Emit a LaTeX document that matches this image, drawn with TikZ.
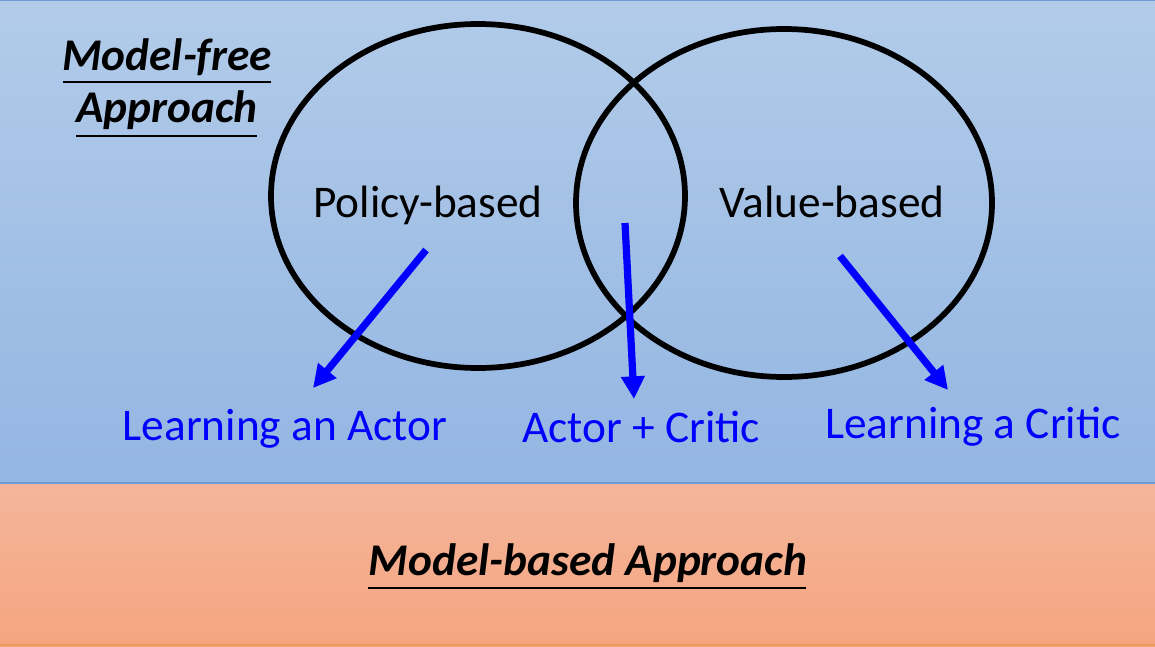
\documentclass[tikz,border=0pt]{standalone}
\usepackage{fontspec}
\setmainfont{Carlito}
\usetikzlibrary{arrows.meta}
\definecolor{bluetop}{HTML}{B2CBE9}
\definecolor{bluebot}{HTML}{93B6E2}
\definecolor{blueline}{HTML}{6C9BD6}
\definecolor{orgtop}{HTML}{F4B69B}
\definecolor{orgbot}{HTML}{F5A47F}
\definecolor{orgline}{HTML}{EE9A5F}
\definecolor{arrowblue}{HTML}{0000FF}
\tikzset{
  heading/.style={font=\fontsize{34}{37}\selectfont\bfseries\itshape, text=black, anchor=base, inner sep=0pt},
  setlabel/.style={font=\fontsize{34}{37}\selectfont, text=black, anchor=base, inner sep=0pt},
  bluelabel/.style={font=\fontsize{34}{37}\selectfont, text=arrowblue, anchor=base, inner sep=0pt},
  setring/.style={draw=black, line width=4.3pt},
  bluearrow/.style={draw=arrowblue, line width=5.4pt, -{Triangle[length=17pt,width=17pt]}},
  uline/.style={draw=black, line width=1.5pt}
}
\begin{document}
\begin{tikzpicture}[x=0.75pt,y=-0.75pt]
\useasboundingbox (0,0) rectangle (1155,646);
% backgrounds
\shade[top color=bluetop, bottom color=bluebot] (0,0) rectangle (1155,483);
\shade[top color=orgtop, bottom color=orgbot] (0,483) rectangle (1155,646);
\draw[blueline, line width=1pt] (0,0.6) -- (1155,0.6);
\draw[blueline, line width=1.2pt] (0,483) -- (1155,483);
\draw[orgline, line width=1.2pt] (0,645) -- (1155,645);
% sets
\draw[setring] (478,196) ellipse [x radius=207, y radius=172];
\draw[setring] (784,203) ellipse [x radius=208, y radius=174];
% headings
\node[heading] (mf) at (167,70) {Model-free};
\node[heading] (ap) at (167,122) {Approach};
\draw[uline] (63,82) -- (271,82);
\draw[uline] (76,136) -- (257,136);
\node[heading] (mb) at (588,575) {Model-based Approach};
\draw[uline] (368,588) -- (806,588);
% set labels
\node[setlabel] (pb) at (428,217) {Policy-based};
\node[setlabel] (vb) at (832,217) {Value-based};
% blue labels
\node[bluelabel] (la) at (285,440) {Learning an Actor};
\node[bluelabel] (ac) at (641,442) {Actor + Critic};
\node[bluelabel] (lc) at (973,438) {Learning a Critic};
% arrow endpoints
\coordinate (s1) at (426,250);
\coordinate (e1) at (313,388);
\coordinate (s2) at (625,223);
\coordinate (e2) at (634,399);
\coordinate (s3) at (840,256);
\coordinate (e3) at (948,390);
\draw[bluearrow] (s1) -- (e1);
\draw[bluearrow] (s2) -- (e2);
\draw[bluearrow] (s3) -- (e3);
\end{tikzpicture}
\end{document}
